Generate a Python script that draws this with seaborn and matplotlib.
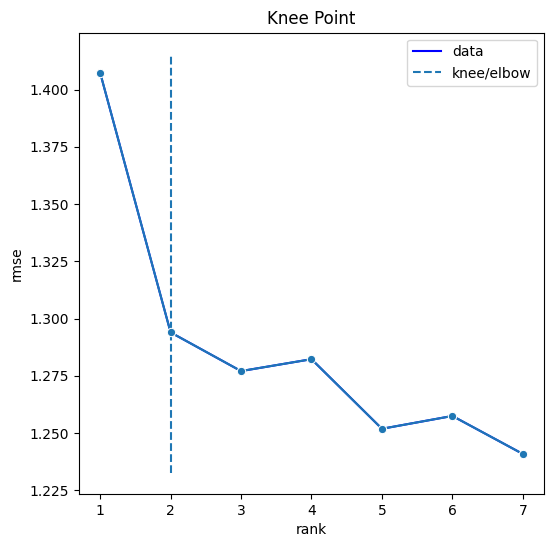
import matplotlib
matplotlib.use("Agg")
import matplotlib.pyplot as plt
import seaborn as sns
import pandas as pd

rank = [1, 2, 3, 4, 5, 6, 7]
rmse = [1.4074, 1.2940, 1.2771, 1.2823, 1.2519, 1.2575, 1.2409]
knee = 2

df = pd.DataFrame({"rank": rank, "rmse": rmse})

fig = plt.figure(figsize=(5.53, 5.47), dpi=100)
ax = fig.add_subplot(111)
fig.subplots_adjust(left=79/553, right=544/553, top=1-32.7/547, bottom=1-494/547)

ax.plot(df["rank"], df["rmse"], "b", label="data")
ymin, ymax = ax.get_ylim()
ax.vlines(knee, ymin, ymax, linestyles="--", label="knee/elbow")
sns.lineplot(data=df, x="rank", y="rmse", marker="o", ax=ax)
ax.set_title("Knee Point")
ax.set_xlabel("rank")
ax.set_ylabel("rmse")
ax.legend(loc="best")

fig.savefig("out.png", dpi=100)
